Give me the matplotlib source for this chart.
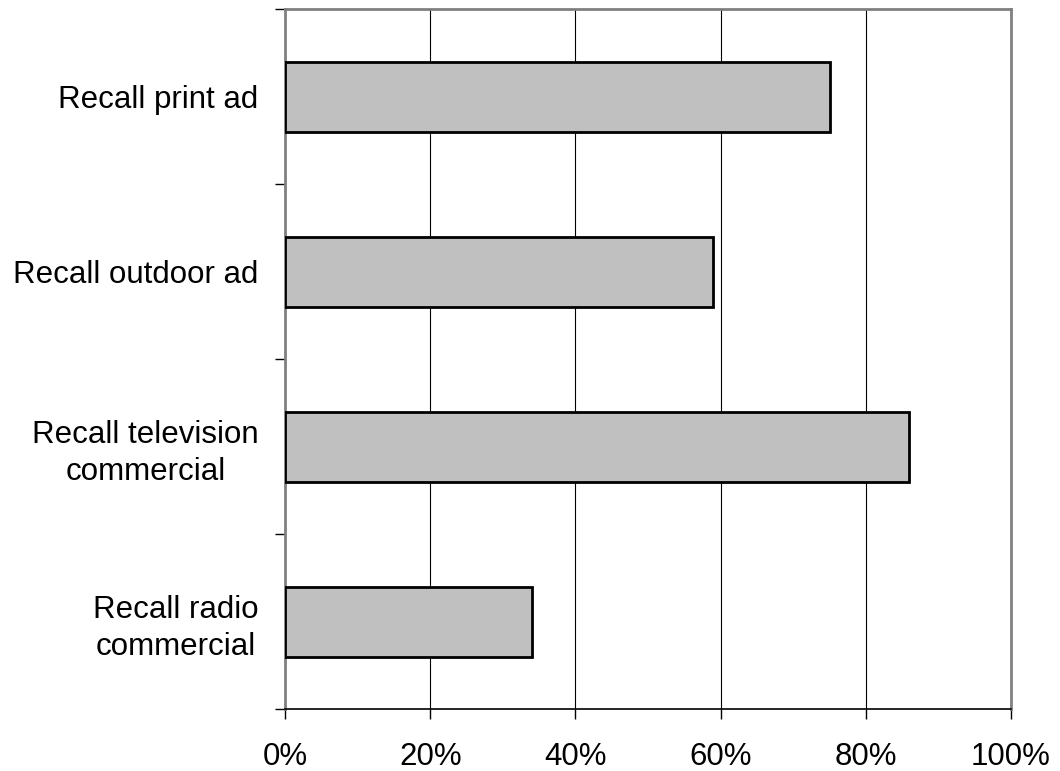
import matplotlib.pyplot as plt
from matplotlib.ticker import FuncFormatter, MultipleLocator
import numpy as np

plt.rcParams['font.family'] = ['Liberation Sans', 'DejaVu Sans']

# Share of respondents recalling each ad type
labels = ["Recall print ad", "Recall outdoor ad",
          "Recall television\ncommercial", "Recall radio\ncommercial"]
values = [0.75, 0.59, 0.86, 0.34]

fig = plt.figure(figsize=(10.6, 7.71), dpi=100)
ax = fig.add_axes([0.2689, 0.0804, 0.6849, 0.9079])

y = np.arange(len(labels))
ax.barh(y, values, height=0.4, color="#c0c0c0", edgecolor="black", linewidth=2, zorder=3)

ax.set_xlim(0, 1)
ax.set_ylim(len(labels) - 0.5, -0.5)

ax.xaxis.set_major_locator(MultipleLocator(0.2))
ax.xaxis.set_major_formatter(FuncFormatter(lambda v, p: f"{v*100:.0f}%"))
ax.grid(axis="x", color="black", linewidth=0.8, zorder=0)

ax.set_yticks(y)
ax.set_yticklabels(labels, multialignment="center", linespacing=1.3)
ax.set_yticks(np.arange(-0.5, len(labels)), minor=True)
ax.tick_params(axis="y", which="major", length=0, pad=19, labelsize=22.5)
ax.tick_params(axis="y", which="minor", length=7, width=1, direction="out")
ax.tick_params(axis="x", length=7, width=1, direction="out", pad=17, labelsize=22.5)

for side in ["top", "right", "left"]:
    ax.spines[side].set_color("#808080")
    ax.spines[side].set_linewidth(2)
ax.spines["bottom"].set_color("black")
ax.spines["bottom"].set_linewidth(1.2)

fig.savefig("out.png", dpi=100)
